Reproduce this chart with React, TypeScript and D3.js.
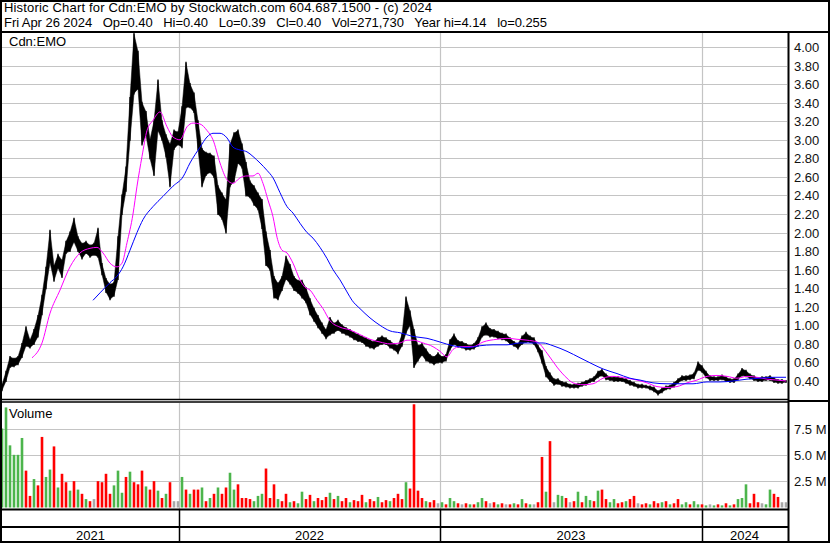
import React from 'react';
import * as d3 from 'd3';

const W = 830;
const H = 543;

// price samples, one every 4 sessions
const priceLo = [
  0.30, 0.40, 0.55, 0.56, 0.58, 0.66, 0.78, 0.76, 0.80, 0.88,
  1.12, 1.40, 1.68, 1.48, 1.62, 1.52, 1.78, 1.80, 1.90, 1.80,
  1.72, 1.78, 1.74, 1.76, 1.74, 1.55, 1.36, 1.28, 1.32, 1.50,
  2.20, 2.45, 3.00, 3.50, 3.55, 2.95, 3.05, 2.80, 2.62, 3.10,
  3.00, 2.82, 2.50, 2.90, 2.95, 2.92, 3.35, 3.35, 3.30, 2.90,
  2.50, 2.62, 2.65, 2.60, 2.20, 2.15, 2.00, 2.50, 2.55, 2.75,
  2.70, 2.40, 2.38, 2.30, 2.25, 2.05, 1.65, 1.60, 1.30, 1.28,
  1.38, 1.50, 1.45, 1.38, 1.35, 1.30, 1.25, 1.12, 1.05, 0.98,
  0.92, 0.86, 0.90, 0.92, 0.95, 0.92, 0.90, 0.88, 0.85, 0.83,
  0.82, 0.78, 0.76, 0.75, 0.78, 0.80, 0.80, 0.76, 0.74, 0.70,
  0.78, 0.92, 1.00, 0.55, 0.62, 0.68, 0.62, 0.60, 0.58, 0.60,
  0.60, 0.62, 0.74, 0.80, 0.77, 0.76, 0.74, 0.74, 0.75, 0.78,
  0.88, 0.90, 0.88, 0.88, 0.86, 0.85, 0.84, 0.80, 0.78, 0.75,
  0.80, 0.82, 0.82, 0.80, 0.72, 0.60, 0.45, 0.40, 0.36, 0.37,
  0.35, 0.34, 0.33, 0.33, 0.33, 0.35, 0.36, 0.39, 0.40, 0.44,
  0.46, 0.42, 0.41, 0.40, 0.40, 0.40, 0.38, 0.36, 0.35, 0.33,
  0.33, 0.33, 0.31, 0.29, 0.255, 0.28, 0.31, 0.32, 0.34, 0.38,
  0.41, 0.41, 0.42, 0.43, 0.52, 0.50, 0.44, 0.41, 0.41, 0.41,
  0.42, 0.40, 0.39, 0.39, 0.42, 0.46, 0.45, 0.43, 0.41, 0.40,
  0.40, 0.41, 0.41, 0.39, 0.38, 0.38, 0.39,
];
const priceHi = [
  0.36, 0.50, 0.66, 0.64, 0.66, 0.80, 0.98, 0.84, 0.95, 1.10,
  1.32, 1.62, 2.02, 1.64, 1.76, 1.70, 1.90, 2.00, 2.15, 1.95,
  1.88, 1.90, 1.86, 1.88, 2.04, 1.66, 1.50, 1.44, 1.46, 1.95,
  2.40, 2.70, 3.45, 4.14, 3.95, 3.40, 3.30, 3.00, 3.20, 3.64,
  3.20, 3.05, 2.95, 3.10, 3.08, 3.35, 3.83, 3.60, 3.50, 3.20,
  2.90, 2.86, 2.85, 2.82, 2.50, 2.42, 2.35, 2.95, 3.07, 3.10,
  2.95, 2.75, 2.55, 2.50, 2.42, 2.35, 2.00, 1.80, 1.52, 1.45,
  1.52, 1.74, 1.65, 1.52, 1.48, 1.48, 1.40, 1.28, 1.18, 1.10,
  1.02, 0.95, 1.08, 1.02, 1.05, 1.00, 0.97, 0.95, 0.92, 0.90,
  0.88, 0.86, 0.84, 0.82, 0.86, 0.88, 0.86, 0.83, 0.80, 0.78,
  0.90, 1.30, 1.15, 0.95, 0.78, 0.80, 0.74, 0.68, 0.66, 0.70,
  0.66, 0.68, 0.84, 0.90, 0.83, 0.82, 0.80, 0.78, 0.80, 0.86,
  0.98, 1.02, 0.96, 0.95, 0.93, 0.91, 0.90, 0.86, 0.82, 0.80,
  0.88, 0.92, 0.88, 0.86, 0.78, 0.72, 0.55, 0.48, 0.42, 0.42,
  0.39, 0.38, 0.36, 0.36, 0.37, 0.38, 0.40, 0.42, 0.44, 0.50,
  0.52, 0.47, 0.44, 0.44, 0.44, 0.43, 0.42, 0.40, 0.38, 0.36,
  0.36, 0.35, 0.34, 0.33, 0.29, 0.32, 0.34, 0.35, 0.38, 0.42,
  0.45, 0.45, 0.46, 0.48, 0.60, 0.56, 0.50, 0.45, 0.44, 0.44,
  0.46, 0.44, 0.42, 0.42, 0.47, 0.53, 0.51, 0.47, 0.45, 0.43,
  0.44, 0.44, 0.45, 0.43, 0.41, 0.41, 0.40,
];
// volume in millions, same sessions
const volume = [
  7.5, 9.5, 5.9, 5.0, 5.0, 6.6, 3.5, 1.1, 2.7, 2.1,
  6.7, 2.9, 3.6, 5.8, 1.9, 3.2, 2.4, 1.6, 2.5, 1.7,
  1.3, 0.8, 0.6, 0.8, 2.5, 2.4, 3.2, 1.3, 2.1, 3.5,
  1.4, 2.9, 3.4, 2.4, 2.2, 3.5, 2.0, 1.7, 2.5, 1.6,
  0.9, 1.3, 2.4, 0.6, 0.6, 2.9, 1.7, 1.3, 1.7, 1.7,
  1.9, 0.6, 0.9, 1.3, 1.9, 1.3, 1.9, 3.3, 1.7, 2.2,
  0.9, 0.9, 0.8, 0.6, 1.1, 1.3, 3.7, 0.9, 2.2, 0.8,
  0.6, 1.3, 0.5, 0.6, 0.4, 1.5, 0.8, 1.2, 0.6, 0.9,
  0.7, 1.0, 1.4, 0.8, 1.1, 0.6, 0.9, 0.5, 0.7, 0.6,
  1.2, 0.5, 0.8, 0.6, 1.0, 0.5, 0.7, 0.6, 0.9, 1.3,
  0.8, 2.4, 1.8, 9.8, 1.6, 0.9, 0.6, 0.5, 0.7, 0.4,
  0.5, 0.3, 0.9, 0.6, 0.4, 0.3, 0.4, 0.3, 0.3, 0.5,
  0.9, 0.6, 0.4, 0.5, 0.3, 0.4, 0.3, 0.3, 0.4, 0.3,
  0.8, 0.4, 0.3, 0.3, 0.5, 4.8, 1.5, 6.3, 0.5, 1.2,
  1.1, 0.9, 0.5, 0.6, 1.5, 0.5, 1.1, 0.7, 0.6, 1.6,
  1.7, 0.8, 0.5, 0.8, 0.4, 0.5, 0.6, 0.8, 1.1, 0.4,
  0.3, 0.4, 0.3, 0.6, 0.4, 0.5, 0.6, 0.3, 0.4, 0.8,
  0.3, 0.5, 0.3, 0.6, 0.3, 0.3, 0.2, 0.3, 0.2, 0.3,
  0.2, 0.4, 0.2, 0.3, 0.8, 0.9, 2.2, 0.4, 1.3, 0.5,
  0.4, 0.3, 1.7, 1.3, 1.0, 0.5, 0.5,
];
// g = up day, r = down day, n = unchanged (same sessions as volume)
const volumeDir = [
  'g', 'g', 'g', 'g', 'g', 'g', 'r', 'r', 'g', 'r',
  'r', 'g', 'g', 'r', 'g', 'r', 'r', 'g', 'r', 'g',
  'r', 'g', 'r', 'n', 'r', 'r', 'r', 'r', 'g', 'g',
  'g', 'r', 'g', 'r', 'r', 'r', 'g', 'r', 'r', 'g',
  'r', 'g', 'r', 'n', 'n', 'g', 'r', 'g', 'r', 'r',
  'g', 'r', 'g', 'r', 'g', 'r', 'r', 'g', 'g', 'r',
  'r', 'r', 'r', 'g', 'g', 'g', 'r', 'r', 'r', 'g',
  'r', 'r', 'g', 'r', 'g', 'g', 'r', 'r', 'g', 'r',
  'r', 'r', 'g', 'r', 'g', 'r', 'r', 'g', 'r', 'r',
  'r', 'g', 'r', 'r', 'g', 'r', 'r', 'g', 'r', 'r',
  'r', 'g', 'r', 'r', 'r', 'r', 'g', 'r', 'r', 'n',
  'g', 'r', 'g', 'g', 'r', 'n', 'r', 'g', 'r', 'g',
  'g', 'r', 'n', 'r', 'g', 'r', 'n', 'r', 'g', 'r',
  'g', 'r', 'g', 'n', 'r', 'r', 'g', 'r', 'n', 'g',
  'g', 'r', 'n', 'r', 'g', 'r', 'g', 'g', 'r', 'g',
  'r', 'r', 'g', 'g', 'r', 'r', 'g', 'r', 'r', 'n',
  'r', 'r', 'g', 'r', 'r', 'g', 'r', 'g', 'r', 'r',
  'g', 'g', 'r', 'g', 'g', 'r', 'g', 'n', 'g', 'r',
  'g', 'r', 'g', 'r', 'g', 'g', 'g', 'r', 'r', 'r',
  'n', 'g', 'g', 'r', 'r', 'n', 'n',
];

const maFastSession = [
  30, 40, 48, 58, 68, 78, 88, 95, 101, 108, 115, 120, 125, 131, 135, 140, 145, 151, 158, 165,
  171, 178, 185, 191, 198, 205, 211, 218, 225, 231, 238, 245, 251, 256, 261, 266, 271, 275, 280, 285,
  291, 298, 303, 308, 315, 321, 328, 338, 348, 358, 368, 378, 388, 398, 405, 411, 421, 431, 438, 445,
  451, 458, 471, 481, 495, 505, 515, 525, 535, 545, 555, 565, 571, 581, 591, 601, 611, 625, 635, 645,
  655, 665, 675, 685, 695, 705, 715, 725, 735, 745, 755, 765, 775, 784,
];
const maFastValue = [
  0.65, 0.81, 1.13, 1.38, 1.63, 1.78, 1.83, 1.84, 1.78, 1.67, 1.63, 1.67, 1.89, 2.20, 2.50, 2.82, 3.10, 3.21, 3.30, 3.14,
  3.03, 3.00, 3.14, 3.18, 3.17, 3.10, 3.00, 2.75, 2.57, 2.53, 2.59, 2.61, 2.61, 2.64, 2.53, 2.35, 2.17, 1.95, 1.81, 1.78,
  1.67, 1.49, 1.41, 1.38, 1.27, 1.18, 1.05, 0.98, 0.95, 0.90, 0.85, 0.82, 0.80, 0.81, 0.84, 0.84, 0.81, 0.77, 0.72, 0.66,
  0.74, 0.77, 0.77, 0.82, 0.85, 0.86, 0.85, 0.84, 0.82, 0.70, 0.55, 0.43, 0.38, 0.36, 0.37, 0.43, 0.45, 0.43, 0.41, 0.38,
  0.34, 0.33, 0.34, 0.38, 0.41, 0.45, 0.46, 0.45, 0.43, 0.45, 0.44, 0.42, 0.41, 0.40,
];
const maSlowSession = [
  91, 98, 108, 115, 121, 128, 135, 141, 151, 161, 171, 181, 188, 198, 205, 211, 218, 225, 231, 238,
  245, 251, 258, 265, 271, 278, 285, 291, 298, 305, 311, 318, 325, 331, 338, 345, 350, 358, 368, 378,
  388, 398, 411, 425, 438, 451, 465, 478, 491, 505, 518, 531, 541, 551, 565, 578, 591, 601, 615, 628,
  638, 651, 665, 678, 691, 705, 718, 731, 745, 758, 771, 784,
];
const maSlowValue = [
  1.27, 1.35, 1.46, 1.53, 1.63, 1.81, 2.00, 2.14, 2.28, 2.39, 2.50, 2.60, 2.75, 2.92, 3.03, 3.07, 3.07, 3.02, 2.92, 2.89,
  2.87, 2.82, 2.75, 2.67, 2.59, 2.43, 2.28, 2.21, 2.10, 2.00, 1.94, 1.84, 1.72, 1.60, 1.49, 1.36, 1.27, 1.18, 1.08, 1.00,
  0.94, 0.92, 0.88, 0.86, 0.82, 0.78, 0.76, 0.78, 0.79, 0.79, 0.81, 0.81, 0.81, 0.78, 0.72, 0.65, 0.58, 0.53, 0.48, 0.43,
  0.41, 0.38, 0.37, 0.37, 0.37, 0.39, 0.39, 0.40, 0.42, 0.43, 0.44, 0.44,
];

const priceTicks = [0.4, 0.6, 0.8, 1.0, 1.2, 1.4, 1.6, 1.8, 2.0, 2.2, 2.4, 2.6, 2.8, 3.0, 3.2, 3.4, 3.6, 3.8, 4.0];
const volumeTicks = [2.5, 5.0, 7.5];
const volumeTickLabels = ['2.5 M', '5.0 M', '7.5 M'];
const years = ['2021', '2022', '2023', '2024'];
const yearStartSession = [0, 177, 438, 700];
const lastSession = 784;
const SESSION_STEP = 4;

const headerLine1 = 'Historic Chart for Cdn:EMO by Stockwatch.com 604.687.1500 - (c) 2024';
const headerLine2 = 'Fri Apr 26 2024   Op=0.40   Hi=0.40   Lo=0.39   Cl=0.40   Vol=271,730   Year hi=4.14   lo=0.255';

const FONT = '"Liberation Sans", Arial, sans-serif';
const GRID = '#c4c4c4';

export default function App() {
  const plotL = 2;
  const plotR = 787;
  const x = d3.scaleLinear().domain([0, lastSession]).range([plotL, 786]);
  const yP = d3.scaleLinear().domain([0.4, 4.0]).range([381, 47]);
  const yV = d3.scaleLinear().domain([0, 7.5]).range([507.5, 428.5]);

  const samples = priceLo.map((lo, i) => ({ s: i * SESSION_STEP, lo, hi: priceHi[i], v: volume[i], d: volumeDir[i] }));

  const band = d3
    .area<any>()
    .x((d) => x(d.s))
    .y0((d) => yP(d.lo))
    .y1((d) => yP(d.hi));

  const fastPts = maFastSession.map((s, i) => [s, maFastValue[i]] as [number, number]);
  const slowPts = maSlowSession.map((s, i) => [s, maSlowValue[i]] as [number, number]);
  const maLine = d3
    .line<[number, number]>()
    .x((d) => x(d[0]))
    .y((d) => yP(d[1]))
    .curve(d3.curveMonotoneX);

  const volColor = (d: string) => (d === 'g' ? '#4cb54c' : d === 'r' ? '#ff0000' : '#a8a8a8');
  const yearX = yearStartSession.map((s) => x(s));
  const yearEnds = [...yearX.slice(1), plotR];

  return (
    <svg
      width={W}
      height={H}
      style={{ position: 'absolute', left: 0, top: 0, background: '#fff' }}
      fontFamily={FONT}
    >
      <defs>
        <clipPath id="pclip">
          <rect x={plotL} y={33} width={plotR - plotL} height={366} />
        </clipPath>
        <clipPath id="vclip">
          <rect x={plotL} y={403} width={plotR - plotL} height={105} />
        </clipPath>
      </defs>
      <rect x={0} y={0} width={W} height={H} fill="#fff" />

      {/* header */}
      <text x={4} y={12} fontSize={13} fill="#000" textLength={428} lengthAdjust="spacing" style={{ whiteSpace: 'pre' }}>
        {headerLine1}
      </text>
      <text x={4} y={27} fontSize={13} fill="#000" textLength={543} lengthAdjust="spacing" style={{ whiteSpace: 'pre' }}>
        {headerLine2}
      </text>

      {/* price grid */}
      {priceTicks.map((t) => (
        <line key={'pg' + t} x1={plotL} x2={plotR} y1={Math.round(yP(t)) + 0.5} y2={Math.round(yP(t)) + 0.5} stroke={GRID} strokeWidth={1.2} />
      ))}
      {yearX.slice(1).map((xx, i) => (
        <line key={'vg' + i} x1={Math.round(xx) + 0.5} x2={Math.round(xx) + 0.5} y1={33} y2={399} stroke={GRID} strokeWidth={1.2} />
      ))}
      {priceTicks.map((t) => (
        <text key={'pl' + t} x={794} y={yP(t) + 5} fontSize={13} fill="#111">
          {t.toFixed(2)}
        </text>
      ))}
      <text x={9} y={46} fontSize={13} fill="#000">Cdn:EMO</text>

      {/* price bars */}
      <g clipPath="url(#pclip)">
        <path d={band(samples) || ''} fill="#000" stroke="#000" strokeWidth={0.5} strokeLinejoin="round" />
        {samples.map((d, i) => (
          <line key={'b' + i} x1={x(d.s)} x2={x(d.s)} y1={yP(d.lo) + 1} y2={yP(d.hi) - 1} stroke="#000" strokeWidth={1.3} />
        ))}
        <path d={maLine(fastPts) || ''} fill="none" stroke="#ff00ff" strokeWidth={1} />
        <path d={maLine(slowPts) || ''} fill="none" stroke="#0000ff" strokeWidth={1} />
      </g>

      {/* volume grid */}
      {volumeTicks.map((t, i) => (
        <g key={'vt' + t}>
          <line x1={plotL} x2={plotR} y1={Math.round(yV(t)) + 0.5} y2={Math.round(yV(t)) + 0.5} stroke={GRID} strokeWidth={1.2} />
          <text x={794} y={yV(t) + 5} fontSize={13} fill="#111">{volumeTickLabels[i]}</text>
        </g>
      ))}
      {yearX.slice(1).map((xx, i) => (
        <line key={'vvg' + i} x1={Math.round(xx) + 0.5} x2={Math.round(xx) + 0.5} y1={403} y2={509} stroke={GRID} strokeWidth={1.2} />
      ))}
      <g clipPath="url(#vclip)">
        {samples.map((d, i) => (
          <rect key={'v' + i} x={x(d.s) - 1.3} width={2.6} y={yV(d.v)} height={yV(0) - yV(d.v)} fill={volColor(d.d)} />
        ))}
      </g>
      <text x={9} y={418} fontSize={13} fill="#000">Volume</text>

      {/* frame lines */}
      <line x1={0} x2={W} y1={32} y2={32} stroke="#000" strokeWidth={2} />
      <line x1={788.5} x2={788.5} y1={32} y2={H} stroke="#000" strokeWidth={2} />
      <line x1={0} x2={788} y1={399.5} y2={399.5} stroke="#000" strokeWidth={1.3} />
      <line x1={0} x2={788} y1={402} y2={402} stroke="#000" strokeWidth={1.3} />
      <line x1={788} x2={W} y1={401} y2={401} stroke="#000" strokeWidth={2} />
      <line x1={0} x2={788} y1={509.5} y2={509.5} stroke="#000" strokeWidth={2} />
      <line x1={0} x2={788} y1={527} y2={527} stroke="#000" strokeWidth={2} />
      {yearX.slice(1).map((xx, i) => (
        <line key={'ys' + i} x1={Math.round(xx) + 0.5} x2={Math.round(xx) + 0.5} y1={510} y2={H} stroke="#000" strokeWidth={1.5} />
      ))}
      {years.map((yr, i) => (
        <text key={yr} x={(yearX[i] + yearEnds[i]) / 2} y={540} fontSize={13} textAnchor="middle" fill="#000">
          {yr}
        </text>
      ))}
      <rect x={1} y={1} width={W - 2} height={H - 2} fill="none" stroke="#000" strokeWidth={2} />
    </svg>
  );
}
